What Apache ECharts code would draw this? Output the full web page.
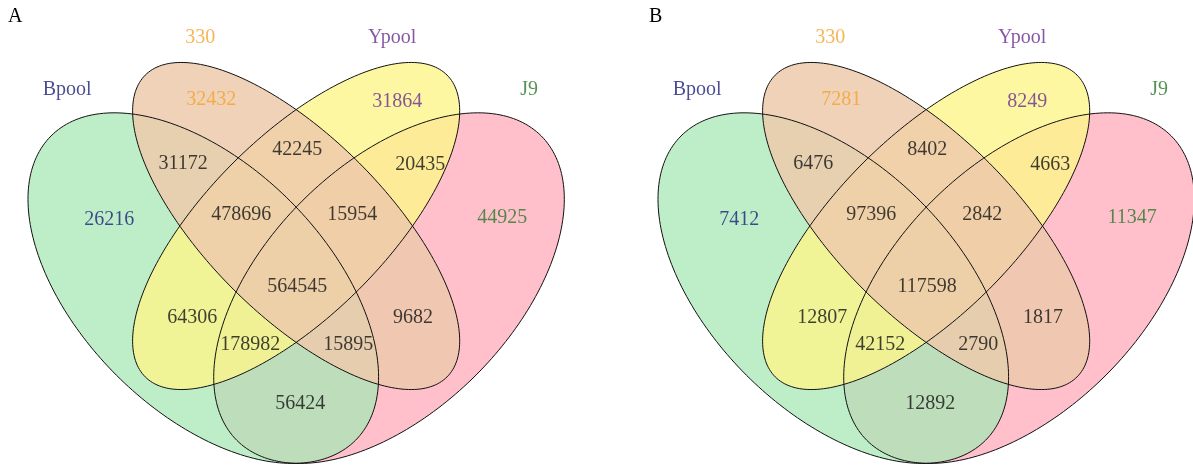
<!DOCTYPE html>
<html><head><meta charset="utf-8">
<script src="https://cdn.jsdelivr.net/npm/echarts@6/dist/echarts.min.js"></script>
<style>html,body{margin:0;padding:0;background:#fff}#c{width:1193px;height:468px}</style>
</head><body><div id="c"></div>
<script>
// ---------------- DATA ----------------
const panelTitles = ["A", "B"];
const setNames = ["Bpool", "330", "Ypool", "J9"];
const regionNames = ["Bpool", "330", "Ypool", "J9",
  "Bpool&330", "330&Ypool", "Ypool&J9",
  "Bpool&330&Ypool", "330&Ypool&J9", "Bpool&330&Ypool&J9",
  "Bpool&Ypool", "330&J9",
  "Bpool&Ypool&J9", "Bpool&330&J9", "Bpool&J9"];
const countsA = [26216, 32432, 31864, 44925, 31172, 42245, 20435, 478696, 15954, 564545, 64306, 9682, 178982, 15895, 56424];
const countsB = [7412, 7281, 8249, 11347, 6476, 8402, 4663, 97396, 2842, 117598, 12807, 1817, 42152, 2790, 12892];

// ---------------- LAYOUT (Venn units) ----------------
const ellipses = { // per set: centre, semi-axes, rotation (deg, y up)
  "Bpool": {cx: 0.349, cy: 0.469, a: 0.35, b: 0.20, rot: 135},
  "330":   {cx: 0.50,  cy: 0.57,  a: 0.347, b: 0.145, rot: 135},
  "Ypool": {cx: 0.50,  cy: 0.57,  a: 0.347, b: 0.145, rot: 45},
  "J9":    {cx: 0.651, cy: 0.469, a: 0.35, b: 0.20, rot: 45}
};
const drawOrder = ["J9", "Bpool", "Ypool", "330"];
const fillColors = {"Bpool": "#a8e8b6", "330": "#edc9ac", "Ypool": "#fcf58b", "J9": "#ffc0cb"};
const fillOpacity = {"Bpool": 0.75, "330": 0.84, "Ypool": 0.8, "J9": 1};
const textColors = {"Bpool": "#1c1f78", "330": "#f4a22a", "Ypool": "#6a2c91", "J9": "#2a782a"};
const setLabelPos = {"Bpool": [0.1276, 0.7911], "330": [0.3439, 0.8757], "Ypool": [0.6561, 0.8757], "J9": [0.8789, 0.7911]};
const regionLabelPos = [
  [0.1959, 0.5798], [0.3618, 0.7749], [0.6642, 0.7716], [0.8350, 0.5830],
  [0.3163, 0.6708], [0.5016, 0.6936], [0.7016, 0.6692],
  [0.4106, 0.5879], [0.5911, 0.5879], [0.5016, 0.4708],
  [0.3309, 0.4204], [0.6902, 0.4204],
  [0.4252, 0.3765], [0.5846, 0.3765], [0.5065, 0.2806]
];
const S = 615;               // px per Venn unit
const panelLeft = [7.1, 637.1];
const xRange = [0.03, 0.92], yRange = [0.18, 0.93];
const FONT = "Liberation Serif";

// ---------------- BUILD ----------------
function ellipsePts(e, api) {
  const r = e.rot * Math.PI / 180, c = Math.cos(r), s = Math.sin(r), pts = [];
  for (let i = 0; i < 240; i++) {
    const t = i / 240 * 2 * Math.PI, x = e.a * Math.cos(t), y = e.b * Math.sin(t);
    pts.push(api.coord([e.cx + x * c - y * s, e.cy + x * s + y * c]));
  }
  return pts;
}
const grid = [], xAxis = [], yAxis = [], series = [], title = [];
const allCounts = [countsA, countsB];
panelTitles.forEach((pt, p) => {
  grid.push({left: panelLeft[p], top: 4.6, width: (xRange[1] - xRange[0]) * S, height: (yRange[1] - yRange[0]) * S});
  xAxis.push({type: 'value', gridIndex: p, min: xRange[0], max: xRange[1], show: false});
  yAxis.push({type: 'value', gridIndex: p, min: yRange[0], max: yRange[1], show: false});
  title.push({text: pt, left: p === 0 ? 3 : 644, top: 2, padding: 5,
    textStyle: {fontFamily: FONT, fontSize: 20, fontWeight: 'normal', color: '#000'}});
  const ed = drawOrder.map(n => [ellipses[n].cx, ellipses[n].cy]);
  series.push({type: 'custom', xAxisIndex: p, yAxisIndex: p, clip: false, silent: true, z: 1, data: ed,
    renderItem: (params, api) => {
      const n = drawOrder[params.dataIndex];
      return {type: 'polygon', shape: {points: ellipsePts(ellipses[n], api)},
        style: {fill: fillColors[n], opacity: fillOpacity[n], stroke: null}};
    }});
  series.push({type: 'custom', xAxisIndex: p, yAxisIndex: p, clip: false, silent: true, z: 2, data: ed,
    renderItem: (params, api) => {
      const n = drawOrder[params.dataIndex];
      return {type: 'polygon', shape: {points: ellipsePts(ellipses[n], api)},
        style: {fill: 'none', stroke: '#111', lineWidth: 1}};
    }});
  series.push({type: 'scatter', xAxisIndex: p, yAxisIndex: p, silent: true, z: 3, symbolSize: 0,
    itemStyle: {color: 'rgba(0,0,0,0)'},
    data: setNames.map(n => ({value: [setLabelPos[n][0], setLabelPos[n][1]], name: n,
      label: {color: textColors[n]}})),
    label: {show: true, position: 'inside', formatter: q => q.name, fontFamily: FONT, fontSize: 20}});
  series.push({type: 'scatter', xAxisIndex: p, yAxisIndex: p, silent: true, z: 3, symbolSize: 0,
    itemStyle: {color: 'rgba(0,0,0,0)'},
    data: allCounts[p].map((v, i) => ({value: [regionLabelPos[i][0], regionLabelPos[i][1], v],
      name: regionNames[i], label: {color: i < 4 ? textColors[setNames[i]] : '#111'}})),
    label: {show: true, position: 'inside', formatter: q => String(q.value[2]), fontFamily: FONT, fontSize: 20}});
});
const chart = echarts.init(document.getElementById('c'), null, {renderer: 'canvas'});
chart.setOption({animation: false, backgroundColor: '#fff', title, grid, xAxis, yAxis, series});
</script></body></html>
